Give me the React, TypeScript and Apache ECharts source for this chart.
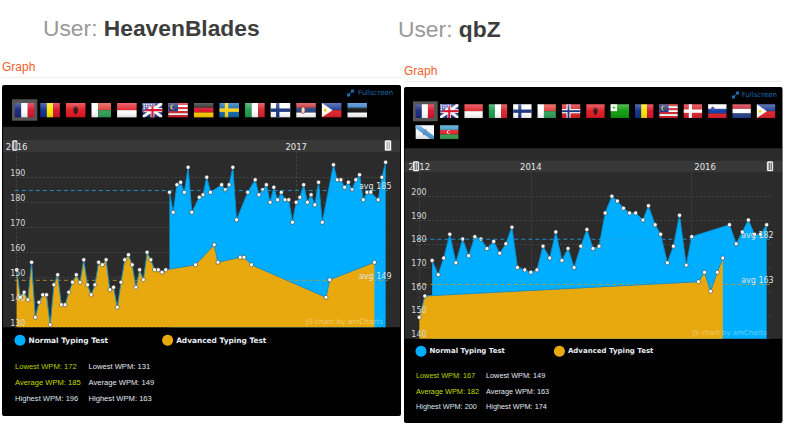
import React, { useEffect, useRef } from "react";
import * as echarts from "echarts";

const FONT = "'DejaVu Sans', Verdana, sans-serif";
const ARIAL = "'Liberation Sans', Arial, sans-serif";
const BLUE = "#00aeff";
const ORANGE = "#e8a90f";

const seriesNames = ["Normal Typing Test", "Advanced Typing Test"];
const statLabels = ["Lowest WPM", "Average WPM", "Highest WPM"];

// HeavenBlades
const hbNormalPos = [41,42,43,44,45,46,47,49,50,51,52,55,56,57,58,59,62,64,65,66,67,68,69,70,71,72,73,74,75,76,77,78,79,80,81,82,85,86,87,88,89,90,91,92,93,94,95,97,98,99];
const hbNormalWpm = [184,176,187,188,184,194,176,182,183,190,184,187,185,187,194,173,184,189,183,185,187,180,186,181,184,181,181,172,180,182,187,180,183,179,188,172,195,189,189,186,188,185,189,191,181,184,184,181,190,196];
const hbAdvancedPos = [0,1,2,3,4,5,6,7,8,9,10,11,12,13,14,15,16,17,18,19,20,21,22,23,24,25,26,27,28,29,30,31,32,33,34,35,36,37,38,39,40,48,53,54,60,61,63,83,84,96];
const hbAdvancedWpm = [153,142,144,141,156,134,140,143,143,131,147,151,139,139,144,148,151,148,157,147,143,147,156,155,157,145,146,138,148,157,159,155,146,153,149,160,157,153,153,152,153,155,163,156,158,158,155,142,149,156];
const hbAverages = [184.7, 148.8];
const hbAverageLabels = ["avg 185", "avg 149"];
const hbStatsNormal = [172, 185, 196];
const hbStatsAdvanced = [131, 149, 163];
const hbYearPos = [0, 75];
const hbYears = ["2016", "2017"];
const hbFlags = ["fr","ro","al","mg","id","gb","my","de","se","it","fi","rs","ph","ee"];

// qbZ
const qbNormalPos = [2.1,3.1,4,5,6,7.1,8.1,9.1,10.1,11.1,12.2,13.2,14.2,15.2,16.1,17.3,18.3,19.3,20.3,21.4,22.4,23.4,24.4,25.4,26.5,27.5,28.5,29.5,30.5,31.6,32.5,33.5,34.5,35.5,36.7,37.6,38.7,39.6,40.7,41.7,42.7,43.8,44.7,50.9,52,53,54,55,56,57];
const qbNormalWpm = [173,167,174,184,172,182,175,183,182,178,181,176,180,187,170,169,168,169,179,174,185,173,178,170,179,186,178,179,193,200,198,195,193,193,190,196,188,184,172,179,192,171,183,188,180,185,190,184,184,188];
const qbAdvancedPos = [0,0.9,45.8,46.8,47.8,48.9,49.8];
const qbAdvancedWpm = [149,158,164,168,160,168,174];
const qbAverages = [181.9, 162.9];
const qbAverageLabels = ["avg 182", "avg 163"];
const qbStatsNormal = [167, 182, 200];
const qbStatsAdvanced = [149, 163, 174];
const qbGridPos = [0, 18.3, 44.7];
const qbYearPos = [0, 18.3, 46.9];
const qbYears = ["2012", "2014", "2016"];
const qbFlags = ["fr","gb","id","it","fi","mg","no","al","eo","ro","my","dk","si","nl","ph","gl","az"];

const rect = (x: number, y: number, w: number, h: number, fill: string) => ({ type: "rect", shape: { x, y, width: w, height: h }, style: { fill } });
const poly = (points: number[][], fill: string) => ({ type: "polygon", shape: { points }, style: { fill } });
const dot = (cx: number, cy: number, r: number, fill: string) => ({ type: "circle", shape: { cx, cy, r }, style: { fill } });
const hs = (...c: string[]) => c.map((f, i) => rect(0, (i * 14) / c.length, 20, 14 / c.length + 0.05, f));
const vs = (...c: string[]) => c.map((f, i) => rect((i * 20) / c.length, 0, 20 / c.length + 0.05, 14, f));
const cross = (bg: string, fg: string, inner?: string) => {
  const out: any[] = [rect(0, 0, 20, 14, bg)];
  if (inner) {
    out.push(rect(5, 0, 4.4, 14, fg), rect(0, 4.8, 20, 4.4, fg), rect(6.2, 0, 2, 14, inner), rect(0, 6, 20, 2, inner));
  } else {
    out.push(rect(5.5, 0, 3.4, 14, fg), rect(0, 5.3, 20, 3.4, fg));
  }
  return out;
};
const flagShapes: Record<string, () => any[]> = {
  fr: () => vs("#14247a", "#ffffff", "#d8102a"),
  ro: () => vs("#0b2a8a", "#fce300", "#d8102a"),
  al: () => [rect(0, 0, 20, 14, "#e0161e"), poly([[10, 3], [12.5, 5], [12, 9], [10, 11.5], [8, 9], [7.5, 5]], "#2a1010")],
  mg: () => [rect(0, 0, 7, 14, "#ffffff"), rect(7, 0, 13, 7, "#e03a32"), rect(7, 7, 13, 7, "#2f9f57")],
  id: () => hs("#e2202a", "#ffffff"),
  gb: () => [
    rect(0, 0, 20, 14, "#1c2f80"),
    poly([[0, 0], [2.5, 0], [20, 12], [20, 14], [17.5, 14], [0, 2]], "#ffffff"),
    poly([[20, 0], [17.5, 0], [0, 12], [0, 14], [2.5, 14], [20, 2]], "#ffffff"),
    rect(8, 0, 4, 14, "#ffffff"), rect(0, 5, 20, 4, "#ffffff"),
    rect(8.9, 0, 2.2, 14, "#d8102a"), rect(0, 5.9, 20, 2.2, "#d8102a"),
    poly([[0, 0], [13, 0], [0, 9]], "#4a4fa8"),
    dot(1.5, 1.5, 0.7, "#fff"), dot(4, 1.5, 0.7, "#fff"), dot(6.5, 1.5, 0.7, "#fff"), dot(9, 1.5, 0.7, "#fff"),
    dot(1.5, 3.5, 0.7, "#fff"), dot(4, 3.5, 0.7, "#fff"), dot(6.5, 3.5, 0.7, "#fff"), dot(1.5, 5.5, 0.7, "#fff"),
  ],
  my: () => [
    ...hs("#e0202a", "#ffffff", "#e0202a", "#ffffff", "#e0202a", "#ffffff", "#e0202a"),
    rect(0, 0, 10, 8, "#1c2f80"),
    dot(4.5, 4, 2.4, "#f4d000"),
    dot(5.4, 4, 2, "#1c2f80"),
  ],
  de: () => hs("#1a1a1a", "#d8102a", "#ffcc00"),
  se: () => cross("#1266a8", "#fcd116"),
  it: () => vs("#1a9a4a", "#ffffff", "#d8202a"),
  fi: () => cross("#ffffff", "#14307e"),
  rs: () => [...hs("#c8282e", "#1f3f80", "#ffffff"), { type: "ellipse", shape: { cx: 7, cy: 7, rx: 2, ry: 3.2 }, style: { fill: "#e8dcc0", stroke: "#a01818", lineWidth: 0.7 } }],
  ph: () => [...hs("#1c3a96", "#e0202a"), poly([[0, 0], [11, 7], [0, 14]], "#ffffff"), dot(3.5, 7, 1.5, "#f4d000")],
  ee: () => hs("#2a76c8", "#111111", "#ffffff"),
  no: () => cross("#d8202a", "#ffffff", "#14307e"),
  eo: () => [rect(0, 0, 20, 14, "#0a9a0a"), rect(0, 0, 7, 7, "#ffffff"), poly([[3.5, 1.2], [4.4, 4.8], [1.4, 2.8], [5.6, 2.8], [2.6, 4.8]], "#0a9a0a")],
  dk: () => cross("#d8202a", "#ffffff"),
  si: () => [...hs("#ffffff", "#0a3aa8", "#e0202a"), { type: "circle", shape: { cx: 5, cy: 4.2, r: 1.8 }, style: { fill: "#1440b0", stroke: "#e0202a", lineWidth: 0.4 } }],
  nl: () => hs("#c8202e", "#ffffff", "#22408c"),
  gl: () => [rect(0, 0, 20, 14, "#f4f6f8"), poly([[0, 0], [4, 0], [20, 11], [20, 14], [16, 14], [0, 3]], "#4a9ad8"), rect(8, 4, 4, 6, "#5a88b8")],
  az: () => [...hs("#2a98c8", "#e0202a", "#3aa050"), dot(9.5, 7, 2, "#ffffff"), dot(10.2, 7, 1.6, "#e0202a")],
};

const flag = (code: string, x: number, y: number, w: number, h: number, z: number) => ({
  type: "group", x, y, scaleX: w / 20, scaleY: h / 14, silent: true,
  children: [
    ...flagShapes[code](),
    {
      type: "rect", shape: { x: 0, y: 0, width: 20, height: 14 },
      style: {
        fill: new echarts.graphic.LinearGradient(0, 0, 0, 1, [
          { offset: 0, color: "rgba(255,255,255,0.32)" },
          { offset: 0.5, color: "rgba(255,255,255,0.04)" },
          { offset: 1, color: "rgba(0,0,0,0.12)" },
        ]),
      },
    },
  ].map((c: any) => ({ ...c, z })),
});

const text = (x: number, y: number, t: string, fill: string, fontSize: number, extra: any = {}) => ({
  type: "text", x, y, z: 20, silent: true,
  style: { text: t, fill, fontSize, fontFamily: ARIAL, verticalAlign: "middle", ...extra },
});

const handle = (x: number, y: number, w: number, h: number, inner: string) => [
  { type: "rect", z: 21, silent: true, shape: { x, y, width: w, height: h, r: 1.5 }, style: { fill: "#ffffff", stroke: "#222", lineWidth: 0.5 } },
  { type: "rect", z: 22, silent: true, shape: { x: x + w * 0.3, y: y + 1.5, width: 1, height: h - 3 }, style: { fill: inner } },
  { type: "rect", z: 22, silent: true, shape: { x: x + w * 0.6, y: y + 1.5, width: 1, height: h - 3 }, style: { fill: inner } },
];

const fullscreen = (ix: number, iy: number, tx: number) => [
  { type: "line", z: 20, silent: true, shape: { x1: ix, y1: iy + 6, x2: ix + 6, y2: iy }, style: { stroke: "#1c6db0", lineWidth: 1 } },
  { type: "rect", z: 20, silent: true, shape: { x: ix - 0.5, y: iy + 3.5, width: 3, height: 3 }, style: { fill: "#1c6db0" } },
  { type: "rect", z: 20, silent: true, shape: { x: ix + 3.5, y: iy - 0.5, width: 3, height: 3 }, style: { fill: "#1c6db0" } },
  text(tx, iy + 3, "Fullscreen", "#1c6db0", 7, { fontFamily: FONT }),
];

const statBlock = (x1: number, x2: number, ys: number[], normal: number[], advanced: number[], size: number) => {
  const colors = ["#b4d400", "#c4dc00", "#dde8f4"];
  const out: any[] = [];
  statLabels.forEach((l, i) => {
    out.push(text(x1, ys[i], `${l}: ${normal[i]}`, colors[i], size));
    out.push(text(x2, ys[i], `${l}: ${advanced[i]}`, "#e4eaf2", size));
  });
  return out;
};

const zip = (xs: number[], ys: number[]) => xs.map((x, i) => [x, ys[i]]);

const areaSeries = (name: string, color: string, line: string, xs: number[], ys: number[], idx: number, z: number) => ({
  name, type: "line", xAxisIndex: idx, yAxisIndex: idx * 2, z,
  data: zip(xs, ys), symbol: "circle", symbolSize: 4, showSymbol: true, showAllSymbol: true,
  itemStyle: { color: "#ffffff", borderColor: "#333333", borderWidth: 0.6 },
  lineStyle: { color: line, width: 1 },
  areaStyle: { color, opacity: 1 },
  emphasis: { disabled: true }, silent: true,
});

const avgSeries = (value: number, color: string, from: number, to: number, idx: number) => ({
  type: "line", xAxisIndex: idx, yAxisIndex: idx * 2, z: 3, symbol: "none", silent: true,
  data: [[from, value], [to, value]],
  lineStyle: { color, width: 1, type: [4, 3], opacity: 0.85 },
});

const avgLabelSeries = (value: number, label: string, from: number, to: number, idx: number) => ({
  type: "line", xAxisIndex: idx, yAxisIndex: idx * 2, z: 6, symbol: "none", silent: true,
  data: [[from, value], [to, value]],
  lineStyle: { opacity: 0 },
  endLabel: { show: true, formatter: label, color: "#dfe3e6", fontSize: 8, fontFamily: FONT, align: "right", verticalAlign: "bottom", offset: [4, 0], distance: 0 },
});

const xAxis = (idx: number, min: number, max: number, gridPos: number[], labelPos: number[], labels: string[]) => ({
  type: "value", gridIndex: idx, position: "top", min, max,
  axisLine: { show: false },
  axisTick: { show: false, customValues: gridPos },
  axisLabel: {
    customValues: labelPos, color: "#e6e6e6", fontSize: 8.5, fontFamily: FONT, margin: 1, hideOverlap: false,
    formatter: (v: number) => labels[labelPos.indexOf(v)] ?? "",
  },
  splitLine: { show: true, lineStyle: { color: "rgba(255,255,255,0.13)", type: [2, 2] } },
});

const yAxes = (idx: number, min: number, max: number, margin: number) => [
  {
    type: "value", gridIndex: idx, min, max, interval: 10, z: 0,
    axisLine: { show: false }, axisTick: { show: false }, axisLabel: { show: false },
    splitLine: { show: true, showMaxLine: false, lineStyle: { color: "rgba(255,255,255,0.13)", type: [2, 2] } },
  },
  {
    type: "value", gridIndex: idx, min, max, interval: 10, z: 30, position: "left",
    axisLine: { show: false }, axisTick: { show: false }, splitLine: { show: false },
    axisLabel: { color: "#d8d8d8", fontSize: 8, fontFamily: FONT, align: "center", verticalAlign: "bottom", margin, showMaxLabel: false },
  },
];

const legend = (left: number, top: number, gap: number, size: number) => ({
  left, top, padding: 0, orient: "horizontal", itemWidth: 11, itemHeight: 11, itemGap: gap, selectedMode: false, icon: "circle",
  textStyle: { color: "#e8eef4", fontSize: size, fontWeight: "bold", fontFamily: FONT, padding: [0, 0, 0, -2] },
  data: [
    { name: seriesNames[0], icon: "circle", itemStyle: { color: BLUE, borderWidth: 0 }, lineStyle: { opacity: 0 } },
    { name: seriesNames[1], icon: "circle", itemStyle: { color: ORANGE, borderWidth: 0 }, lineStyle: { opacity: 0 } },
  ],
});

export default function App() {
  const ref = useRef<HTMLDivElement>(null);
  useEffect(() => {
    document.body.style.margin = "0";
    const chart = echarts.init(ref.current!, undefined, { renderer: "svg" });
    const elements: any[] = [
      { type: "rect", z: -5, silent: true, shape: { x: 2, y: 85, width: 399, height: 331, r: 2 }, style: { fill: "#000000" } },
      { type: "rect", z: -4, silent: true, shape: { x: 3, y: 126.7, width: 397, height: 200.6 }, style: { fill: "#2b2b2b" } },
      { type: "rect", z: -3, silent: true, shape: { x: 3, y: 140, width: 397, height: 12 }, style: { fill: "#383838" } },
      { type: "rect", z: -5, silent: true, shape: { x: 404, y: 87, width: 378.5, height: 336, r: 2 }, style: { fill: "#000000" } },
      { type: "rect", z: -4, silent: true, shape: { x: 404.7, y: 148.3, width: 377, height: 190.4 }, style: { fill: "#2b2b2b" } },
      { type: "rect", z: -3, silent: true, shape: { x: 404.7, y: 160.7, width: 377, height: 11.3 }, style: { fill: "#383838" } },
      { type: "rect", z: -5, silent: true, shape: { x: 2, y: 77, width: 399, height: 1 }, style: { fill: "#f0f0f0" } },
      { type: "rect", z: -5, silent: true, shape: { x: 404, y: 81, width: 378, height: 1 }, style: { fill: "#f0f0f0" } },
      {
        type: "text", x: 43, y: 28, z: 20, silent: true,
        style: {
          text: "{a|User: }{b|HeavenBlades}", verticalAlign: "middle",
          rich: {
            a: { fill: "#999999", fontSize: 22.8, fontFamily: ARIAL },
            b: { fill: "#3d3d3d", fontSize: 22.8, fontWeight: "bold", fontFamily: ARIAL },
          },
        },
      },
      {
        type: "text", x: 398, y: 29, z: 20, silent: true,
        style: {
          text: "{a|User: }{b|qbZ}", verticalAlign: "middle",
          rich: {
            a: { fill: "#999999", fontSize: 22.8, fontFamily: ARIAL },
            b: { fill: "#3d3d3d", fontSize: 22.8, fontWeight: "bold", fontFamily: ARIAL },
          },
        },
      },
      text(2, 67, "Graph", "#f0622a", 12),
      text(404, 71, "Graph", "#f0622a", 12),
      ...fullscreen(347.5, 90, 358),
      ...fullscreen(732.5, 92, 741.7),
      { type: "rect", z: -2, silent: true, shape: { x: 12, y: 99.3, width: 25.3, height: 21.4 }, style: { fill: "#555555" } },
      { type: "rect", z: -2, silent: true, shape: { x: 413, y: 101.3, width: 24.7, height: 20 }, style: { fill: "#555555" } },
      ...hbFlags.map((c, i) => flag(c, 14.7 + i * 25.6, 103, 19.5, 14.3, 5)),
      ...qbFlags.map((c, i) => {
        const col = i % 15;
        const row = Math.floor(i / 15);
        return flag(c, 415.7 + col * 24.37, 104.3 + row * 21, 18.3, 13.7, 5);
      }),
      ...handle(12, 140, 5.7, 11, "#333"),
      ...handle(384.5, 140, 7, 11, "#888"),
      ...handle(412.7, 161, 6.6, 10.5, "#333"),
      ...handle(766.7, 161, 6.6, 10.5, "#333"),
      text(306, 321.7, "JS chart by amCharts", "rgba(255,255,255,0.4)", 7.3, { fontFamily: FONT }),
      text(692.7, 333, "JS chart by amCharts", "rgba(255,255,255,0.4)", 7, { fontFamily: FONT }),
      ...statBlock(15, 88.5, [366.3, 382.3, 398.3], hbStatsNormal, hbStatsAdvanced, 7.6),
      ...statBlock(416, 486, [375.7, 391, 406.7], qbStatsNormal, qbStatsAdvanced, 7.3),
    ];
    chart.setOption({
      animation: false,
      grid: [
        { left: 14.8, top: 152.3, width: 372.7, height: 175 },
        { left: 416.3, top: 172.6, width: 353.4, height: 166.1 },
      ],
      xAxis: [
        xAxis(0, -0.5, 99.5, hbYearPos, hbYearPos, hbYears),
        xAxis(1, -0.5, 57.5, qbGridPos, qbYearPos, qbYears),
      ],
      yAxis: [...yAxes(0, 130, 200, -3), ...yAxes(1, 140, 210, -2.7)],
      legend: [legend(14.5, 334.8, 54, 7.4), legend(415.5, 345.8, 49, 7)],
      tooltip: { show: false },
      series: [
        areaSeries(seriesNames[0], BLUE, "#0a8fd0", hbNormalPos, hbNormalWpm, 0, 2),
        avgSeries(hbAverages[0], "#1f9fe0", -0.5, 99.5, 0),
        avgSeries(hbAverages[1], "#c89a28", -0.5, 99.5, 0),
        areaSeries(seriesNames[1], ORANGE, "#1c8fc4", hbAdvancedPos, hbAdvancedWpm, 0, 4),
        avgLabelSeries(hbAverages[0], hbAverageLabels[0], -0.5, 99.5, 0),
        avgLabelSeries(hbAverages[1], hbAverageLabels[1], -0.5, 99.5, 0),
        areaSeries(seriesNames[0], BLUE, "#0a8fd0", qbNormalPos, qbNormalWpm, 1, 2),
        avgSeries(qbAverages[0], "#1f9fe0", -0.5, 57.5, 1),
        avgSeries(qbAverages[1], "#c89a28", -0.5, 57.5, 1),
        areaSeries(seriesNames[1], ORANGE, "#1c8fc4", qbAdvancedPos, qbAdvancedWpm, 1, 4),
        avgLabelSeries(qbAverages[0], qbAverageLabels[0], -0.5, 57.5, 1),
        avgLabelSeries(qbAverages[1], qbAverageLabels[1], -0.5, 57.5, 1),
      ],
      graphic: { elements },
    });
    return () => chart.dispose();
  }, []);
  return <div ref={ref} style={{ position: "absolute", left: 0, top: 0, width: 786, height: 429 }} />;
}
